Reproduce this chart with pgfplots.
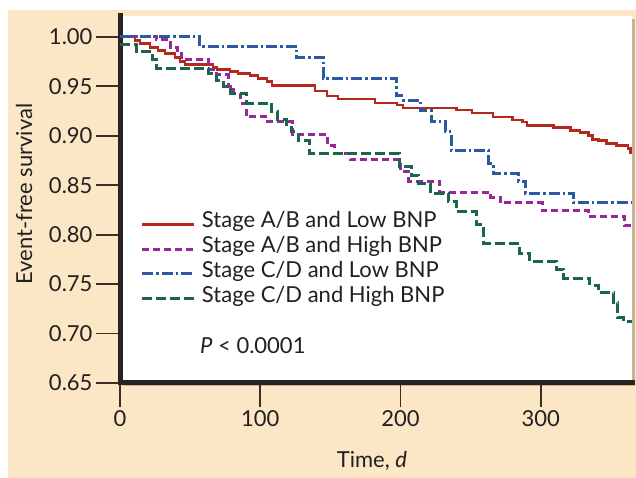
\documentclass[border=0pt]{standalone}
\usepackage{pgfplots}
\pgfplotsset{compat=1.18}
\usepackage{fontspec}
\setmainfont{Lato}
\usetikzlibrary{shadows}
\definecolor{bg}{HTML}{FBE7C6}
\definecolor{bar}{HTML}{2B2320}
\definecolor{tk}{HTML}{3A2E25}
\definecolor{txt}{HTML}{231F20}
\definecolor{cred}{HTML}{B5281C}
\definecolor{cpur}{HTML}{96289A}
\definecolor{cblu}{HTML}{2B5AA0}
\definecolor{cgrn}{HTML}{1B6450}

\pgfplotstableread{
x y
0 1.000
10.7 0.996
14.3 0.993
21.4 0.989
27.1 0.986
32.1 0.983
39.2 0.979
42.8 0.975
46.3 0.972
66.3 0.969
69.1 0.967
78.4 0.965
84.1 0.963
92.7 0.961
98.4 0.958
104.8 0.955
108.3 0.951
139 0.945
147.5 0.940
155.4 0.937
181.8 0.933
197.4 0.931
201.7 0.928
240 0.926
251 0.923
266 0.919
280 0.916
287 0.914
290 0.910
309 0.908
321 0.905
328 0.903
334 0.900
337 0.896
341 0.895
347 0.892
354 0.890
362 0.887
364 0.883
365 0.883
}\redtab

\pgfplotstableread{
x y
0 1.000
26 0.997
36 0.989
41 0.983
44 0.977
63 0.967
69 0.962
77 0.950
81 0.943
86 0.933
90 0.919
104 0.914
123 0.901
148 0.890
153 0.882
164 0.876
200 0.864
206 0.854
228 0.843
264 0.838
271 0.832
301 0.824
334 0.818
360 0.809
365 0.809
}\purtab

\pgfplotstableread{
x y
0 1.000
57 0.990
126 0.979
145 0.958
197 0.941
201 0.936
214 0.925
222 0.914
232 0.904
236 0.885
263 0.872
266 0.862
284 0.854
289 0.842
323 0.832
365 0.832
}\blutab

\pgfplotstableread{
x y
0 0.992
12 0.985
23 0.977
26 0.968
63 0.963
69 0.956
74 0.950
79 0.943
90 0.933
108 0.924
112 0.916
119 0.911
122 0.904
127 0.895
135 0.882
199 0.869
208 0.860
213 0.852
221 0.842
234 0.833
240 0.823
254 0.810
259 0.791
285 0.781
292 0.773
311 0.765
316 0.756
335 0.749
341 0.741
352 0.731
355 0.716
359 0.712
365 0.712
}\grntab

\begin{document}
\begin{tikzpicture}[font=\fontsize{22}{26}\selectfont, text=txt]
\fill[white] (0pt,0pt) rectangle (636pt,478pt);
\useasboundingbox (0pt,0pt) rectangle (636pt,478pt);
\fill[bg] (8pt,0pt) rectangle (636pt,468pt);
\begin{axis}[
  at={(120pt,95pt)}, anchor=south west,
  scale only axis, width=512pt, height=367pt,
  xmin=0, xmax=365, ymin=0.65, ymax=1.021,
  axis x line=bottom, axis y line=left,
  axis line style={-, line width=5pt, color=bar, line cap=rect},
  axis background/.style={fill=white, drop shadow={shadow xshift=2.5pt, shadow yshift=-3pt, fill=black, opacity=0.22}},
  xtick={0,100,200,300}, ytick={0.65,0.70,0.75,0.80,0.85,0.90,0.95,1.00},
  tick align=outside, major tick length=24pt,
  tick style={line width=1.8pt, color=tk},
  yticklabel style={/pgf/number format/.cd, fixed, fixed zerofill, precision=2},
  /pgf/number format/assume math mode=true,
  tick label style={font=\fontsize{22}{26}\selectfont, text=txt},
  every axis y label/.style={at={(axis description cs:-0.1875,0.515)}, rotate=90, anchor=center, font=\fontsize{22}{26}\selectfont},
  every axis x label/.style={at={(axis description cs:0.492,-0.2125)}, anchor=center, font=\fontsize{22}{26}\selectfont},
  ylabel={Event-free survival},
  xlabel={Time, \textit{d}},
  legend image code/.code={\draw[#1] (0pt,0pt) -- (52pt,0pt);},
  legend cell align=left,
  legend style={at={(rel axis cs:0.041,0.466)}, anchor=north west, draw=none, fill=none,
    inner sep=0pt, outer sep=0pt, font=\fontsize{22}{26}\selectfont,
    nodes={inner sep=0pt, text height=16pt, text depth=8.7pt},
    /tikz/every odd column/.append style={column sep=6pt}},
]
\addplot[const plot, color=cred, line width=2.6pt] table[x=x,y=y]{\redtab};
\addlegendentry{Stage A/B and Low BNP}
\addplot[const plot, color=cpur, line width=3pt, dash pattern=on 7pt off 4pt] table[x=x,y=y]{\purtab};
\addlegendentry{Stage A/B and High BNP}
\addplot[const plot, color=cblu, line width=3pt, dash pattern=on 11pt off 3pt on 2.5pt off 3pt] table[x=x,y=y]{\blutab};
\addlegendentry{Stage C/D and Low BNP}
\addplot[const plot, color=cgrn, line width=3pt, dash pattern=on 10pt off 4pt] table[x=x,y=y]{\grntab};
\addlegendentry{Stage C/D and High BNP}
\node[anchor=west, inner sep=0pt] at (axis cs:57,0.688) {\textit{P} \textless{} 0.0001};
\end{axis}
\end{tikzpicture}
\end{document}
